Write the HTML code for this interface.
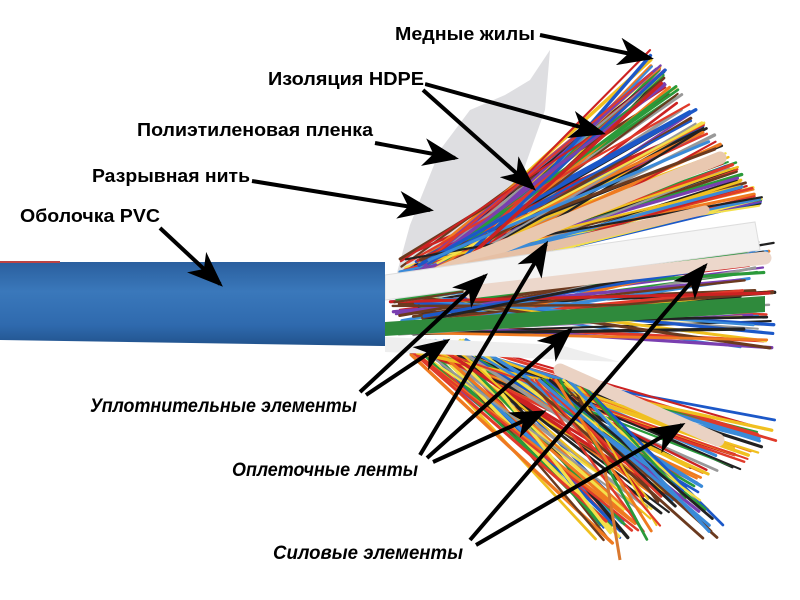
<!DOCTYPE html>
<html><head><meta charset="utf-8"><style>
html,body{margin:0;padding:0;background:#fff;width:800px;height:600px;overflow:hidden}
svg{display:block}
.t{font-family:"Liberation Sans Narrow","Liberation Sans",sans-serif;font-weight:bold;font-size:18px;fill:#000;stroke:#fff;stroke-width:3px;paint-order:stroke}
.i{font-family:"Liberation Sans",sans-serif;font-weight:bold;font-style:italic;font-size:19px;fill:#000;stroke:#fff;stroke-width:3px;paint-order:stroke}
</style></head><body>
<svg id="s" width="800" height="600" viewBox="0 0 800 600" xmlns="http://www.w3.org/2000/svg">
<defs>
<linearGradient id="bl" x1="0" y1="0" x2="0" y2="1">
<stop offset="0" stop-color="#2a5f9e"/><stop offset="0.35" stop-color="#3a78bb"/><stop offset="0.75" stop-color="#2f6aae"/><stop offset="1" stop-color="#21528c"/></linearGradient>
<marker id="ah" markerWidth="9" markerHeight="7" refX="8" refY="3.5" orient="auto" markerUnits="strokeWidth">
<path d="M0,0 L9,3.5 L0,7 L2.5,3.5 z" fill="#000"/></marker>
</defs>
<path d="M395,280 L410,225 L440,150 L470,110 L505,95 L530,80 L550,50 L545,110 L520,180 L500,230 L450,265 Z" fill="#d8d8dc" opacity="0.85"/>
<g id="wires"></g>
<line x1="440" y1="272" x2="720" y2="158" stroke="#e9c8b0" stroke-width="13" stroke-linecap="round"/>
<line x1="470" y1="265" x2="705" y2="210" stroke="#e6c0a5" stroke-width="9" stroke-linecap="round"/>
<path d="M385,275 L755,222 L760,250 L385,300 Z" fill="#f4f4f4" stroke="#ddd"/>
<line x1="470" y1="292" x2="765" y2="258" stroke="#ecd7cb" stroke-width="13" stroke-linecap="round"/>
<path d="M385,322 L765,296 L765,312 L385,336 Z" fill="#2f8a3c"/>
<path d="M385,337 L560,345 L620,362 L385,352 Z" fill="#eeeeee"/>
<line x1="560" y1="370" x2="718" y2="440" stroke="#ead2c3" stroke-width="13" stroke-linecap="round"/>
<line x1="605" y1="470" x2="620" y2="560" stroke="#d9782f" stroke-width="3"/>
<path d="M0,262 L385,262 L385,346 L0,340 Z" fill="url(#bl)"/>
<line x1="0" y1="262" x2="60" y2="262" stroke="#b44" stroke-width="2"/>
<g stroke="#000" stroke-width="4" fill="none" marker-end="url(#ah)">
<line x1="540" y1="35" x2="650" y2="58"/>
<line x1="425" y1="84" x2="602" y2="133"/>
<line x1="423" y1="90" x2="533" y2="188"/>
<line x1="375" y1="143" x2="455" y2="158"/>
<line x1="252" y1="181" x2="430" y2="210"/>
<line x1="160" y1="228" x2="220" y2="284"/>
<line x1="360" y1="392" x2="485" y2="276"/>
<line x1="366" y1="395" x2="447" y2="341"/>
<line x1="420" y1="455" x2="546" y2="244"/>
<line x1="427" y1="458" x2="570" y2="330"/>
<line x1="433" y1="462" x2="543" y2="412"/>
<line x1="470" y1="540" x2="705" y2="266"/>
<line x1="476" y1="545" x2="682" y2="425"/>
</g>
<text class="t" x="395" y="40" textLength="140" lengthAdjust="spacingAndGlyphs">Медные жилы</text>
<text class="t" x="268" y="85" textLength="156" lengthAdjust="spacingAndGlyphs">Изоляция HDPE</text>
<text class="t" x="137" y="136" textLength="236" lengthAdjust="spacingAndGlyphs">Полиэтиленовая пленка</text>
<text class="t" x="92" y="182" textLength="158" lengthAdjust="spacingAndGlyphs">Разрывная нить</text>
<text class="t" x="20" y="222" textLength="140" lengthAdjust="spacingAndGlyphs">Оболочка PVC</text>
<text class="i" x="90" y="412" textLength="267" lengthAdjust="spacingAndGlyphs">Уплотнительные элементы</text>
<text class="i" x="232" y="476" textLength="186" lengthAdjust="spacingAndGlyphs">Оплеточные ленты</text>
<text class="i" x="273" y="559" textLength="190" lengthAdjust="spacingAndGlyphs">Силовые элементы</text>
</svg>
<script>
(function(){
var g=document.getElementById('wires'),ns="http://www.w3.org/2000/svg";
var cols=["#e03a2a","#f0c020","#1c58c8","#2a9a3a","#ef7a20","#222","#7a3fb0","#c22","#f4e04a","#3a8ad8","#6b3a1f","#999"];
var seed=7;function r(){seed=(seed*9301+49297)%233280;return seed/233280;}
function w(x1,y1,x2,y2){var l=document.createElementNS(ns,"line");l.setAttribute("x1",x1);l.setAttribute("y1",y1);l.setAttribute("x2",x2);l.setAttribute("y2",y2);l.setAttribute("stroke",cols[Math.floor(r()*cols.length)]);l.setAttribute("stroke-width",2+r()*1.5);l.setAttribute("stroke-linecap","round");g.appendChild(l);}
var i,t;
for(i=0;i<110;i++){t=r();w(400+r()*70,280-r()*25,650+t*115,60+t*150+(r()-0.5)*20);}
for(i=0;i<60;i++){t=r();w(390+r()*40,295+r()*40,740+r()*35,240+t*110);}
for(i=0;i<80;i++){t=r();w(410+r()*60,340+r()*15,600+t*175+(r()-0.5)*20,540-t*110+(r()-0.5)*30);}
for(i=0;i<25;i++){t=r();w(520+r()*60,380,640+t*90,490+r()*50);}
})();
</script>
</body></html>
